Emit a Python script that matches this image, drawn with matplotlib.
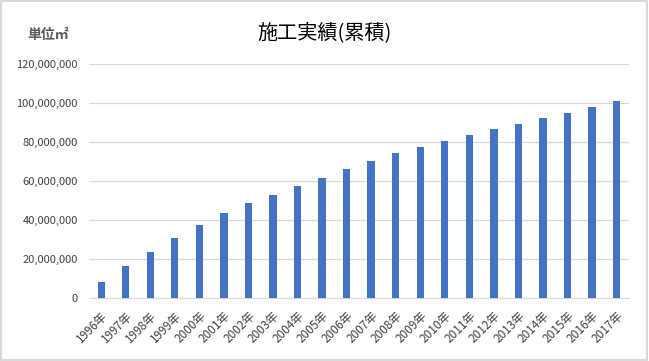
import matplotlib
matplotlib.use("Agg")
import matplotlib.pyplot as plt
from matplotlib.ticker import FuncFormatter

plt.rcParams['font.family'] = ['Noto Sans CJK JP', 'DejaVu Sans']

years = [f"{y}年" for y in range(1996, 2018)]
area = [8.4, 16.6, 23.7, 30.9, 37.6, 43.6, 48.7, 53.0, 57.6, 61.7, 66.3,
        70.4, 74.5, 77.6, 80.7, 83.7, 86.8, 89.4, 92.5, 95.0, 98.1, 101.0]
area = [v * 1e6 for v in area]

fig = plt.figure(figsize=(6.49, 3.61), dpi=100)
ax = fig.add_axes([0.137, 0.1745, 0.832, 0.6485])

ax.bar(range(len(years)), area, width=0.3, color="#4472C4", zorder=3)
ax.set_xlim(-0.5, len(years) - 0.5)
ax.set_ylim(0, 120e6)
ax.set_yticks(range(0, 120000001, 20000000))
ax.yaxis.set_major_formatter(FuncFormatter(lambda v, p: f"{int(v):,}"))
ax.set_xticks(range(len(years)))
ax.set_xticklabels(years, rotation=45, ha="right", rotation_mode="anchor")

ax.grid(axis="y", color="#d9d9d9", linewidth=0.9, zorder=0)
for s in ["top", "right", "left"]:
    ax.spines[s].set_visible(False)
ax.spines["bottom"].set_color("#d9d9d9")
ax.tick_params(axis="both", length=0, colors="#404040")
ax.tick_params(axis="y", pad=8, labelsize=8)
ax.tick_params(axis="x", pad=8, labelsize=8.5)

fig.text(0.5, 0.91, "施工実績(累積)", ha="center", va="center", fontsize=14.5, color="black")
fig.text(0.042, 0.903, "単位㎡", ha="left", va="center", fontsize=10,
         color="#595959", fontweight="bold")

fig.patches.append(plt.Rectangle((0.002, 0.003), 0.995, 0.993, transform=fig.transFigure,
                                 fill=False, edgecolor="#d9d9d9", linewidth=1.5))

fig.savefig("out.png", dpi=100)
